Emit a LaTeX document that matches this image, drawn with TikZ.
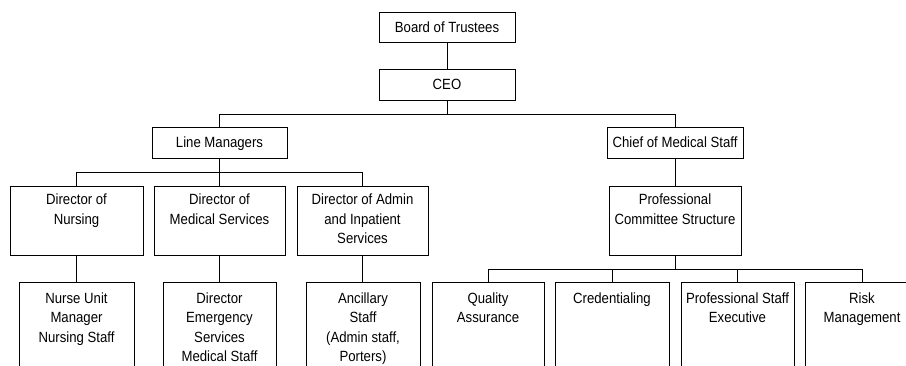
\documentclass[tikz,border=0pt]{standalone}
\usepackage{fontspec}
\setmainfont{Liberation Sans}[FakeStretch=0.89]
\usetikzlibrary{positioning}

\begin{document}
\begin{tikzpicture}[x=1pt,y=-1pt,
    box/.style={draw, rectangle, line width=0.9pt, inner sep=0pt},
    txt/.style={align=center, inner sep=0pt, font=\fontsize{14.8}{19.3}\selectfont},
    oneline/.style={text height=10.6pt, text depth=0pt},
    wire/.style={line width=0.9pt}]

\useasboundingbox (0,0) rectangle (906,366);
\clip (0,0) rectangle (906,366);

% top of the tree
\node [box, txt, oneline, minimum width=136pt, minimum height=30pt] (bot) at (447,27)    {Board of Trustees};
\node [box, txt, oneline, minimum width=136pt, minimum height=31pt] (ceo) at (447,84.5)  {CEO};
\node [box, txt, oneline, minimum width=135pt, minimum height=31pt] (lm)  at (219.5,142.5) {Line Managers};
\node [box, txt, oneline, minimum width=136pt, minimum height=31pt] (cms) at (675,142.5)   {Chief of Medical Staff};

% second row
\foreach \n/\x/\w/\t in {dn/76.5/133/{Director of\\Nursing},
                         dms/219.5/131/{Director of\\Medical Services},
                         dai/362.5/131/{Director of Admin\\and Inpatient\\Services},
                         pcs/675/132/{Professional\\Committee Structure}}
{
    \node [box, anchor=north, minimum width=\w pt, minimum height=69pt] (\n) at (\x,186) {};
    \node [txt, below=8pt of \n.north] (\n-t) {\t};
}

% bottom row (runs off the page)
\foreach \n/\x/\w/\t in {num/76.5/115/{Nurse Unit\\Manager\\Nursing Staff},
                         des/219.5/113/{Director\\Emergency\\Services\\Medical Staff},
                         anc/363/114/{Ancillary\\Staff\\(Admin staff,\\Porters)},
                         qa/488/112/{Quality\\Assurance},
                         cred/612/114/{Credentialing},
                         pse/737.5/113/{Professional Staff\\Executive},
                         risk/862/114/{Risk\\Management}}
{
    \node [box, anchor=north, minimum width=\w pt, minimum height=120pt] (\n) at (\x,282) {};
    \node [txt, below=10.5pt of \n.north] (\n-t) {\t};
}

% connectors
\draw [wire] (bot) -- (ceo);

\draw [wire] (ceo.south) -- ++(0,14) coordinate (j1);
\draw [wire] (lm.north) |- (j1) -| (cms.north);

\draw [wire] (lm.south) -- ++(0,14) coordinate (j2);
\draw [wire] (dn.north) |- (j2) -| (dai.north);
\draw [wire] (dms.north) -- (j2);

\foreach \a/\b in {dn/num, dms/des, dai/anc, cms/pcs}
    \draw [wire] (\a.south) -- (\a.south |- \b.north);

\draw [wire] (pcs.south) -- ++(0,14) coordinate (j3);
\draw [wire] (qa.north) |- (j3) -| (risk.north);
\foreach \b in {cred, pse}
    \draw [wire] (\b.north) |- (j3);

\end{tikzpicture}
\end{document}
